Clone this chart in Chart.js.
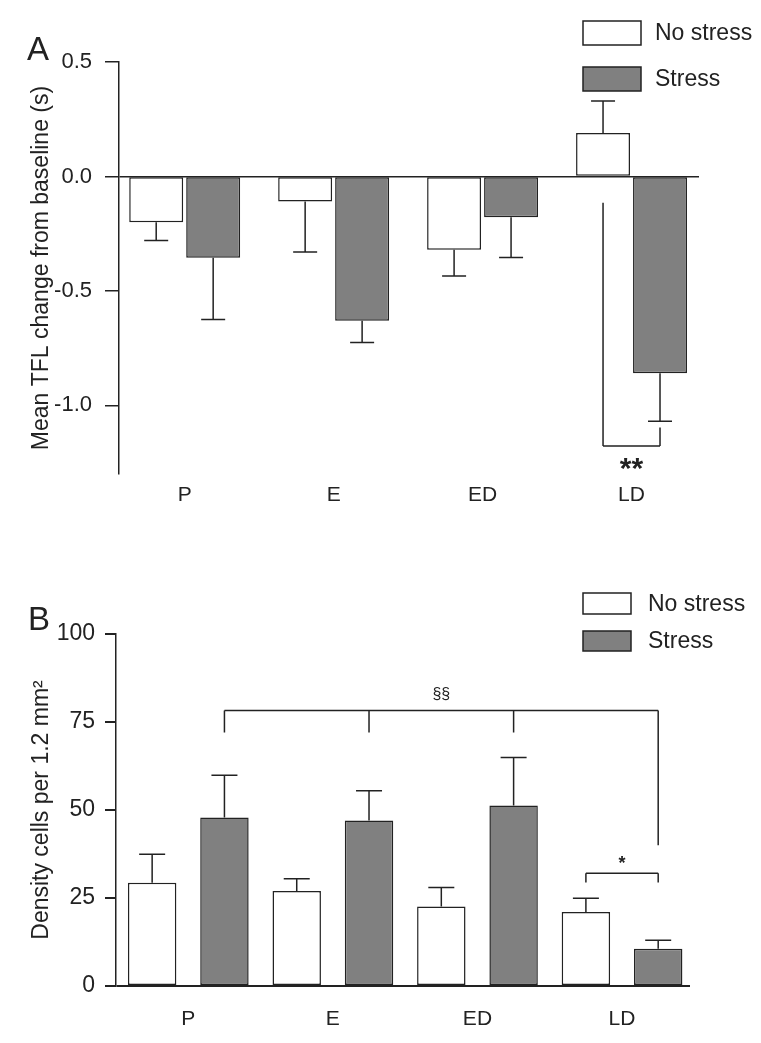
<!DOCTYPE html>
<html>
<head>
<meta charset="utf-8">
<title>TFL change and cell density</title>
<script src="https://cdn.jsdelivr.net/npm/chart.js@4.4.1/dist/chart.umd.min.js"></script>
<style>
  body { margin: 0; background: #fff; }
  .panel { position: relative; width: 761px; }
</style>
</head>
<body>
<div class="panel" style="height:520px"><canvas id="panelA"></canvas></div>
<div class="panel" style="height:523px"><canvas id="panelB"></canvas></div>
<script>
// categories and series
const groups = ["P", "E", "ED", "LD"];
const seriesNames = ["No stress", "Stress"];

// panel A - mean TFL change from baseline (s)
const tflNoStress = [-0.20, -0.11, -0.32, 0.19];
const tflNoStressErr = [0.08, 0.22, 0.115, 0.14];
const tflStress = [-0.355, -0.63, -0.178, -0.86];
const tflStressErr = [0.27, 0.095, 0.176, 0.21];
const tflTicks = [0.5, 0, -0.5, -1.0];
// brackets: legs are [series, group, value where the leg ends]
const tflBrackets = [
    { level: -1.178, label: "**", legs: [[0, 3, -0.115], [1, 3, -1.097]] },
];

// panel B - density cells per 1.2 mm2
const densNoStress = [29.3, 27.0, 22.6, 21.0];
const densNoStressErr = [8.1, 3.5, 5.4, 3.9];
const densStress = [47.9, 47.0, 51.3, 10.6];
const densStressErr = [12.0, 8.5, 13.6, 2.4];
const densTicks = [0, 25, 50, 75, 100];
const densBrackets = [
    { level: 78.3, label: "§§", legs: [[1, 0, 72], [1, 1, 72], [1, 2, 72], [1, 3, 40]] },
    { level: 32, label: "*", legs: [[0, 3, 29.4], [1, 3, 29.4]] },
];

const INK = "#222";
const GREY = "#808080";
const FONT = '"Liberation Sans", Arial, Helvetica, sans-serif';

Chart.defaults.font.family = FONT;
Chart.defaults.color = INK;

function makeDatasets(noStress, noStressErr, stress, stressErr) {
    return [
        {
            label: seriesNames[0],
            data: noStress.map((v, i) => ({ x: i, y: v })),
            errors: noStressErr,
            backgroundColor: "#ffffff",
            borderColor: INK,
        },
        {
            label: seriesNames[1],
            data: stress.map((v, i) => ({ x: i, y: v })),
            errors: stressErr,
            backgroundColor: GREY,
            borderColor: INK,
        },
    ];
}

// error bars, brackets, legend boxes and the panel letter
function decor(cfg) {
    return {
        id: "decor",
        afterDatasetsDraw(chart) {
            const ctx = chart.ctx;
            const ys = chart.scales.y;
            ctx.save();
            ctx.strokeStyle = INK;
            ctx.lineWidth = 1.5;
            chart.data.datasets.forEach((ds, i) => {
                chart.getDatasetMeta(i).data.forEach((bar, j) => {
                    const v = ds.data[j].y;
                    const tip = v >= 0 ? v + ds.errors[j] : v - ds.errors[j];
                    const y0 = ys.getPixelForValue(v);
                    const y1 = ys.getPixelForValue(tip);
                    ctx.beginPath();
                    ctx.moveTo(bar.x, y0);
                    ctx.lineTo(bar.x, y1);
                    ctx.moveTo(bar.x - cfg.cap / 2, y1);
                    ctx.lineTo(bar.x + cfg.cap / 2, y1);
                    ctx.stroke();
                });
            });
            ctx.restore();
        },
        afterDraw(chart) {
            const ctx = chart.ctx;
            const ys = chart.scales.y;
            ctx.save();
            ctx.strokeStyle = INK;
            ctx.fillStyle = INK;
            ctx.lineWidth = 1.5;

            cfg.brackets.forEach((b, k) => {
                const legs = b.legs.map(([s, g, end]) => ({
                    x: chart.getDatasetMeta(s).data[g].x,
                    y: ys.getPixelForValue(end),
                }));
                const yl = ys.getPixelForValue(b.level);
                const x0 = legs[0].x;
                const x1 = legs[legs.length - 1].x;
                ctx.beginPath();
                ctx.moveTo(x0, yl);
                ctx.lineTo(x1, yl);
                legs.forEach((l) => {
                    ctx.moveTo(l.x, yl);
                    ctx.lineTo(l.x, l.y);
                });
                ctx.stroke();
                const st = cfg.bracketText[k];
                ctx.font = st.font;
                ctx.textAlign = "center";
                ctx.textBaseline = "alphabetic";
                ctx.fillText(b.label, (x0 + x1) / 2, yl + st.dy);
            });

            cfg.legend.forEach((box, i) => {
                const ds = chart.data.datasets[i];
                ctx.fillStyle = ds.backgroundColor;
                ctx.fillRect(box.x, box.y, box.w, box.h);
                ctx.strokeRect(box.x, box.y, box.w, box.h);
                ctx.fillStyle = INK;
                ctx.font = "23px " + FONT;
                ctx.textAlign = "left";
                ctx.textBaseline = "middle";
                ctx.fillText(ds.label, box.x + box.w + cfg.legendGap, box.y + box.h / 2 + 1);
            });

            ctx.font = "33px " + FONT;
            ctx.textAlign = "left";
            ctx.textBaseline = "alphabetic";
            ctx.fillText(cfg.letter.text, cfg.letter.x, cfg.letter.y);
            ctx.restore();
        },
    };
}

function makeChart(id, p) {
    return new Chart(document.getElementById(id), {
        type: "bar",
        data: { datasets: p.datasets },
        options: {
            responsive: true,
            maintainAspectRatio: false,
            animation: false,
            layout: { padding: p.padding },
            datasets: {
                bar: {
                    borderWidth: 1.5,
                    borderSkipped: false,
                    barPercentage: p.barPct,
                    categoryPercentage: p.catPct,
                },
            },
            plugins: {
                legend: { display: false },
                tooltip: { enabled: false },
            },
            scales: {
                x: {
                    type: "linear",
                    offset: false,
                    min: p.xMin,
                    max: p.xMax,
                    afterBuildTicks: (s) => { s.ticks = groups.map((_, i) => ({ value: i })); },
                    afterFit: (s) => { s.height = p.xHeight; },
                    ticks: {
                        callback: (v) => groups[v],
                        font: { size: 21 },
                        color: INK,
                        padding: p.xPad,
                        autoSkip: false,
                        maxRotation: 0,
                    },
                    grid: { display: false, offset: false },
                    border: { display: false },
                },
                y: {
                    min: p.yMin,
                    max: p.yMax,
                    afterBuildTicks: (s) => { s.ticks = p.yTicks.map((v) => ({ value: v })); },
                    afterFit: (s) => { s.width = p.yWidth; },
                    ticks: {
                        callback: p.yFormat,
                        font: { size: p.yFont },
                        color: INK,
                        padding: p.yPad,
                    },
                    grid: {
                        drawOnChartArea: true,
                        color: (c) => (c.tick && c.tick.value === 0 ? INK : "rgba(0,0,0,0)"),
                        tickColor: INK,
                        tickLength: p.tickLen,
                        lineWidth: p.zeroWidth,
                    },
                    border: { display: true, color: INK, width: 1.5 },
                    title: {
                        display: true,
                        text: p.yTitle,
                        font: { size: 23 },
                        color: INK,
                        padding: { top: 4, bottom: 0 },
                    },
                },
            },
        },
        plugins: [decor(p.decor)],
    });
}

makeChart("panelA", {
    datasets: makeDatasets(tflNoStress, tflNoStressErr, tflStress, tflStressErr),
    padding: { left: 24, right: 62, top: 62, bottom: 0 },
    barPct: 0.947,
    catPct: 0.765,
    xMin: -0.441,
    xMax: 3.453,
    xHeight: 46,
    xPad: 1,
    yMin: -1.3,
    yMax: 0.5,
    yTicks: tflTicks,
    yFormat: (v) => v.toFixed(1),
    yFont: 22,
    yPad: 13,
    yWidth: 95,
    tickLen: 14,
    zeroWidth: 1.5,
    yTitle: "Mean TFL change from baseline (s)",
    decor: {
        cap: 24,
        brackets: tflBrackets,
        bracketText: [{ font: "bold 30px " + FONT, dy: 32 }],
        legend: [
            { x: 583, y: 21, w: 58, h: 24 },
            { x: 583, y: 67, w: 58, h: 24 },
        ],
        legendGap: 14,
        letter: { text: "A", x: 27, y: 60 },
    },
});

makeChart("panelB", {
    datasets: makeDatasets(densNoStress, densNoStressErr, densStress, densStressErr),
    padding: { left: 24, right: 71, top: 114, bottom: 0 },
    barPct: 0.67,
    catPct: 1.0,
    xMin: -0.5,
    xMax: 3.47,
    xHeight: 57,
    xPad: 13,
    yMin: 0,
    yMax: 100,
    yTicks: densTicks,
    yFormat: (v) => String(v),
    yFont: 23,
    yPad: 10,
    yWidth: 92,
    tickLen: 11,
    zeroWidth: 2,
    yTitle: "Density cells per 1.2 mm²",
    decor: {
        cap: 26,
        brackets: densBrackets,
        bracketText: [
            { font: "16px " + FONT, dy: -11.5 },
            { font: "bold 18px " + FONT, dy: -4 },
        ],
        legend: [
            { x: 583, y: 73, w: 48, h: 21 },
            { x: 583, y: 111, w: 48, h: 20 },
        ],
        legendGap: 17,
        letter: { text: "B", x: 28, y: 110 },
    },
});
</script>
</body>
</html>
